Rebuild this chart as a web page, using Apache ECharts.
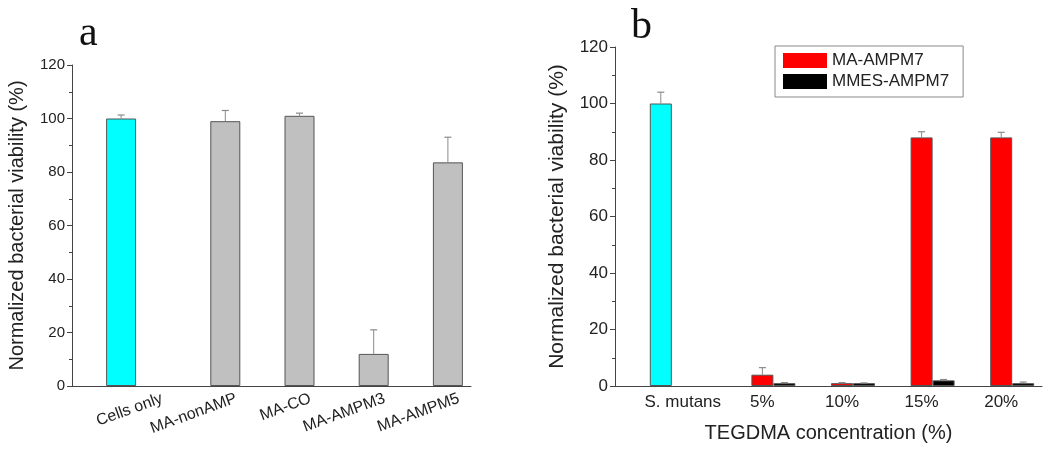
<!DOCTYPE html>
<html><head><meta charset="utf-8">
<script src="https://cdn.jsdelivr.net/npm/echarts@6/dist/echarts.min.js"></script>
<style>html,body{margin:0;padding:0;background:#fff}#c{width:1050px;height:451px}</style>
</head><body><div id="c"></div>
<script>
// ---- Panel a data ----
const catsA = ['Cells only', 'MA-nonAMP', 'MA-CO', 'MA-AMPM3', 'MA-AMPM5'];
const cellsOnlyA = [100, '-', '-', '-', '-'];
const cellsOnlyErrA = [1.3, 0, 0, 0, 0];
const testedA = ['-', 99, 101, 12, 83.6];
const testedErrA = [0, 4, 1, 9, 9.4];
// ---- Panel b data ----
const catsB = ['S. mutans', '5%', '10%', '15%', '20%'];
const mutansB = [100, '-', '-', '-', '-'];
const mutansErrB = [4, 0, 0, 0, 0];
const maB = ['-', 4, 1, 88, 88];
const maErrB = [0, 2.5, 0.2, 2, 1.8];
const mmesB = ['-', 1, 1, 2, 1];
const mmesErrB = [0, 0.2, 0.1, 0.3, 0.4];
const yTicks = [0, 20, 40, 60, 80, 100, 120];

const FONT = 'Liberation Sans';
const TXT = '#222';
const AX = '#444';
const yMin = yTicks[0], yMax = yTicks[yTicks.length - 1], yInt = yTicks[1] - yTicks[0];

function errData(vals, errs) {
  const out = [];
  vals.forEach((v, i) => { if (v !== '-' && errs[i] > 0) out.push([i, v, errs[i]]); });
  return out;
}
function errSeries(xi, yi, vals, errs, offset) {
  return {
    type: 'custom', xAxisIndex: xi, yAxisIndex: yi, z: 5, silent: true,
    data: errData(vals, errs),
    renderItem: function (params, api) {
      const b = api.coord([api.value(0), api.value(1)]);
      const t = api.coord([api.value(0), api.value(1) + api.value(2)]);
      const x = b[0] + offset;
      return { type: 'group', children: [
        { type: 'line', shape: { x1: x, y1: b[1], x2: x, y2: t[1] }, style: { stroke: '#8a8a8a', lineWidth: 1 } },
        { type: 'line', shape: { x1: x - 3.5, y1: t[1], x2: x + 3.5, y2: t[1] }, style: { stroke: '#8a8a8a', lineWidth: 1.2 } }
      ]};
    }
  };
}
function frameY(gi, fs, nameFs, name, gap) {
  return {
    type: 'value', gridIndex: gi, min: yMin, max: yMax, interval: yInt,
    name: name, nameLocation: 'middle', nameGap: gap,
    nameTextStyle: { fontFamily: FONT, fontSize: nameFs, color: TXT },
    axisLine: { show: true, lineStyle: { color: AX, width: 1 } },
    axisTick: { show: true, inside: false, length: 5, lineStyle: { color: AX } },
    minorTick: { show: true, splitNumber: 2, length: 3, lineStyle: { color: AX } },
    axisLabel: { fontFamily: FONT, fontSize: fs, color: TXT, margin: 7 },
    splitLine: { show: false }
  };
}
function hiddenY(gi) {
  return { type: 'value', gridIndex: gi, min: yMin, max: yMax, interval: yInt, show: false, splitLine: { show: false } };
}
function hiddenCatX(gi, cats) {
  return { type: 'category', gridIndex: gi, data: cats, axisLine: { show: false }, axisTick: { show: false }, axisLabel: { show: false }, splitLine: { show: false } };
}
const barBorder = { borderColor: '#555', borderWidth: 1 };

const BW_A = 30, BW_B = 22;

const option = {
  animation: false,
  backgroundColor: '#fff',
  title: [
    { text: 'a', left: 74, top: 8, textStyle: { fontFamily: 'Liberation Serif', fontSize: 42, fontWeight: 'normal', color: '#111' } },
    { text: 'b', left: 626, top: 1, textStyle: { fontFamily: 'Liberation Serif', fontSize: 42, fontWeight: 'normal', color: '#111' } }
  ],
  legend: {
    data: ['MA-AMPM7', 'MMES-AMPM7'], orient: 'vertical', left: 775, top: 46,
    itemWidth: 44, itemHeight: 15, itemGap: 4, icon: 'rect',
    padding: [6, 14, 7, 8], borderColor: '#888', borderWidth: 1,
    itemStyle: { borderWidth: 0 },
    textStyle: { fontFamily: FONT, fontSize: 17, color: TXT, padding: [0, 0, 0, 0] }
  },
  grid: [
    // panel a: frame, bars, labels
    { left: 72, right: 579, top: 65, bottom: 65 },
    { left: 99, right: 580, top: 65, bottom: 65 },
    { left: 125, right: 554, top: 65, bottom: 65 },
    // panel b: frame, bars
    { left: 615, right: 8, top: 47, bottom: 65 },
    { left: 643, right: 9, top: 47, bottom: 65 }
  ],
  xAxis: [
    { type: 'value', gridIndex: 0, min: 0, max: 1, axisLine: { show: true, lineStyle: { color: AX } }, axisTick: { show: false }, axisLabel: { show: false }, splitLine: { show: false } },
    hiddenCatX(1, catsA),
    { type: 'category', gridIndex: 2, data: catsA, axisLine: { show: false }, axisTick: { show: false },
      axisLabel: { rotate: 20, interval: 0, margin: 12, fontFamily: FONT, fontSize: 16, color: TXT } },
    { type: 'value', gridIndex: 3, min: 0, max: 1, name: 'TEGDMA concentration (%)', nameLocation: 'middle', nameGap: 37,
      nameTextStyle: { fontFamily: FONT, fontSize: 20, color: TXT },
      axisLine: { show: true, lineStyle: { color: AX } }, axisTick: { show: false }, axisLabel: { show: false }, splitLine: { show: false } },
    { type: 'category', gridIndex: 4, data: catsB, axisLine: { show: false }, axisTick: { show: false },
      axisLabel: { interval: 0, margin: 8, fontFamily: FONT, fontSize: 17, color: TXT } }
  ],
  yAxis: [
    frameY(0, 15, 20, 'Normalized bacterial viability (%)', 45),
    hiddenY(1),
    hiddenY(2),
    frameY(3, 17, 21, 'Normalized bacterial viability (%)', 47),
    hiddenY(4)
  ],
  series: [
    { name: 'Cells only', type: 'bar', xAxisIndex: 1, yAxisIndex: 1, data: cellsOnlyA, barWidth: BW_A, barGap: '0%',
      itemStyle: Object.assign({ color: '#00ffff' }, barBorder) },
    { name: 'Tested', type: 'bar', xAxisIndex: 1, yAxisIndex: 1, data: testedA, barWidth: BW_A, barGap: '0%',
      itemStyle: Object.assign({ color: '#c0c0c0' }, barBorder) },
    errSeries(1, 1, cellsOnlyA, cellsOnlyErrA, -BW_A / 2),
    errSeries(1, 1, testedA, testedErrA, BW_A / 2),

    { name: 'S. mutans', type: 'bar', xAxisIndex: 4, yAxisIndex: 4, data: mutansB, barWidth: BW_B, barGap: '0%',
      itemStyle: Object.assign({ color: '#00ffff' }, barBorder) },
    { name: 'MA-AMPM7', type: 'bar', xAxisIndex: 4, yAxisIndex: 4, data: maB, barWidth: BW_B, barGap: '0%',
      itemStyle: Object.assign({ color: '#ff0000' }, barBorder) },
    { name: 'MMES-AMPM7', type: 'bar', xAxisIndex: 4, yAxisIndex: 4, data: mmesB, barWidth: BW_B, barGap: '0%',
      itemStyle: Object.assign({ color: '#000000' }, barBorder) },
    errSeries(4, 4, mutansB, mutansErrB, -BW_B),
    errSeries(4, 4, maB, maErrB, 0),
    errSeries(4, 4, mmesB, mmesErrB, BW_B)
  ]
};
const chart = echarts.init(document.getElementById('c'), null, { renderer: 'canvas' });
chart.setOption(option);
</script></body></html>
